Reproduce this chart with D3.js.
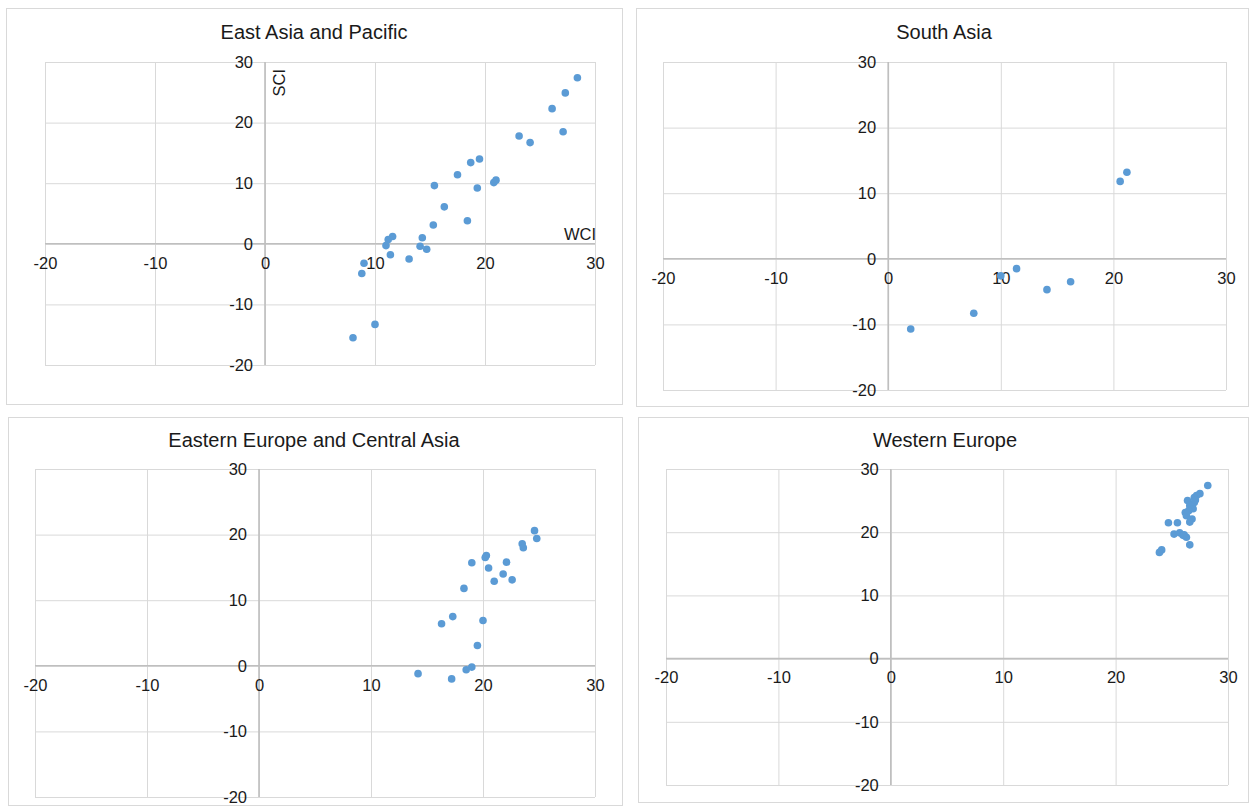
<!DOCTYPE html>
<html><head><meta charset="utf-8">
<script src="https://cdn.jsdelivr.net/npm/d3@7"></script>
<style>
body{margin:0;background:#fff}
text{font-family:"Liberation Sans",Arial,sans-serif}
</style>
</head><body>
<svg id="chart" width="1249" height="808"></svg>
<script>
// ---------- data ----------
const regionNames = ["East Asia and Pacific", "South Asia", "Eastern Europe and Central Asia", "Western Europe"];
const xTicks = [-20, -10, 0, 10, 20, 30];
const yTicks = [-20, -10, 0, 10, 20, 30];
const xAxisTitle = "WCI";
const yAxisTitle = "SCI";

const eastAsiaWCI = [28.4,27.3,26.1,27.1,23.1,24.1,19.5,18.7,17.5,15.4,19.3,20.8,21.0,16.3,18.4,15.3,11.6,11.2,11.0,14.3,14.1,14.7,11.4,13.1,9.0,8.8,10.0,8.0];
const eastAsiaSCI = [27.4,24.9,22.3,18.5,17.8,16.7,14.0,13.4,11.4,9.6,9.2,10.1,10.5,6.1,3.8,3.1,1.2,0.7,-0.3,1.0,-0.4,-0.9,-1.8,-2.5,-3.2,-4.9,-13.3,-15.5];

const southAsiaWCI = [21.2,20.6,11.4,10.0,16.2,14.1,7.6,2.0];
const southAsiaSCI = [13.2,11.8,-1.5,-2.6,-3.5,-4.7,-8.3,-10.7];

const easternEuropeWCI = [24.6,24.8,23.5,23.6,20.3,20.2,19.0,22.1,20.5,21.8,21.0,22.6,18.3,17.3,16.3,20.0,19.5,19.0,18.5,14.2,17.2];
const easternEuropeSCI = [20.6,19.4,18.6,18.0,16.8,16.5,15.7,15.8,14.9,14.0,12.9,13.1,11.8,7.5,6.4,6.9,3.1,-0.2,-0.6,-1.2,-2.0];

const westernEuropeWCI = [28.2,27.5,27.2,27.0,26.4,27.0,26.6,26.9,26.2,26.3,26.8,26.6,24.7,25.5,25.2,25.7,26.0,26.3,26.6,24.1,23.9,26.5,27.1,26.1];
const westernEuropeSCI = [27.4,26.1,25.8,25.5,25.0,24.7,24.2,23.7,23.1,22.6,22.1,21.6,21.5,21.5,19.7,19.9,19.5,19.2,18.0,17.2,16.8,23.4,25.1,19.6];

const seriesX = [eastAsiaWCI, southAsiaWCI, easternEuropeWCI, westernEuropeWCI];
const seriesY = [eastAsiaSCI, southAsiaSCI, easternEuropeSCI, westernEuropeSCI];

// ---------- layout ----------
const layout = [
  {box:[6,8,622,404],   plot:[45,62,595,365],   title:[314,39],  axisTitles:true},
  {box:[636,8,1248,406], plot:[663,62,1226,390], title:[944,39],  axisTitles:false},
  {box:[8,417,622,805],  plot:[35,469,595,797],  title:[314,447], axisTitles:false},
  {box:[638,417,1248,802], plot:[666,469,1228,785], title:[945,447], axisTitles:false}
];

const svg = d3.select("#chart");
const gridColor = "#d9d9d9", axisColor = "#bfbfbf", textColor = "#1a1a1a", dotColor = "#5b9bd5";

layout.forEach((L, i) => {
  const [bx0, by0, bx1, by1] = L.box;
  const [px0, py0, px1, py1] = L.plot;
  const g = svg.append("g");

  g.append("rect").attr("x", bx0 + 0.5).attr("y", by0 + 0.5)
    .attr("width", bx1 - bx0).attr("height", by1 - by0)
    .attr("fill", "#fff").attr("stroke", gridColor).attr("stroke-width", 1);

  const x = d3.scaleLinear().domain([-20, 30]).range([px0, px1]);
  const y = d3.scaleLinear().domain([-20, 30]).range([py1, py0]);

  // gridlines
  const gx = g.append("g").attr("transform", `translate(0,${py1})`)
    .call(d3.axisBottom(x).tickValues(xTicks).tickSize(-(py1 - py0)).tickFormat(""));
  const gy = g.append("g").attr("transform", `translate(${px0},0)`)
    .call(d3.axisLeft(y).tickValues(yTicks).tickSize(-(px1 - px0)).tickFormat(""));
  [gx, gy].forEach(a => {
    a.select(".domain").remove();
    a.selectAll("line").attr("stroke", gridColor).attr("stroke-width", 1);
  });

  // zero axis lines
  g.append("line").attr("x1", px0).attr("x2", px1).attr("y1", y(0)).attr("y2", y(0))
    .attr("stroke", axisColor).attr("stroke-width", 1.6);
  g.append("line").attr("x1", x(0)).attr("x2", x(0)).attr("y1", py0).attr("y2", py1)
    .attr("stroke", axisColor).attr("stroke-width", 1.6);

  // tick labels
  const ax = g.append("g").attr("transform", `translate(0,${y(0)})`)
    .call(d3.axisBottom(x).tickValues(xTicks).tickSize(0).tickPadding(13).tickFormat(d3.format("d")));
  const ay = g.append("g").attr("transform", `translate(${x(0)},0)`)
    .call(d3.axisLeft(y).tickValues(yTicks).tickSize(0).tickPadding(12).tickFormat(d3.format("d")));
  [ax, ay].forEach(a => {
    a.select(".domain").remove();
    a.selectAll("text").attr("font-size", 16.5).attr("fill", textColor)
      .attr("font-family", '"Liberation Sans", Arial, sans-serif');
  });
  ax.selectAll("text").text(d => d < 0 ? "-" + Math.abs(d) : d);
  ay.selectAll("text").text(d => d < 0 ? "-" + Math.abs(d) : d);

  // title
  g.append("text").attr("x", L.title[0]).attr("y", L.title[1])
    .attr("text-anchor", "middle").attr("font-size", 20).attr("fill", textColor)
    .text(regionNames[i]);

  if (L.axisTitles) {
    g.append("text").attr("x", px1 + 1).attr("y", y(0) - 4)
      .attr("text-anchor", "end").attr("font-size", 16.5).attr("fill", textColor)
      .text(xAxisTitle);
    g.append("text").attr("transform", `translate(${x(0) + 20},${py0 + 7}) rotate(-90)`)
      .attr("text-anchor", "end").attr("font-size", 16.5).attr("fill", textColor)
      .text(yAxisTitle);
  }

  // points
  const pts = seriesX[i].map((v, k) => [v, seriesY[i][k]]);
  g.append("g").selectAll("circle").data(pts).join("circle")
    .attr("cx", d => x(d[0])).attr("cy", d => y(d[1])).attr("r", 3.8)
    .attr("fill", dotColor);
});
</script>
</body></html>
